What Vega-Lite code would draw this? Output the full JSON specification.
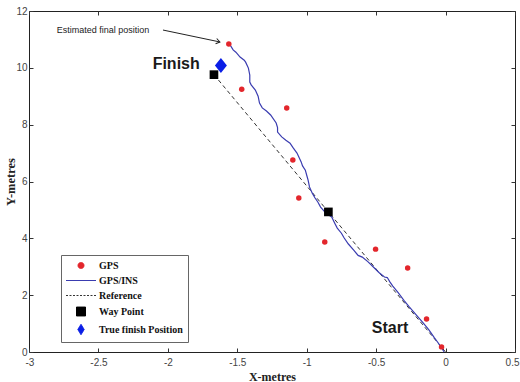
{
  "$schema": "https://vega.github.io/schema/vega-lite/v6.json",
  "width": 486,
  "height": 341,
  "autosize": {"type": "none"},
  "padding": {"left": 29, "top": 11, "right": 5, "bottom": 30},
  "background": "white",
  "config": {
    "view": {"stroke": "#222222", "strokeWidth": 1},
    "axis": {
      "grid": false,
      "domain": false,
      "tickSize": -4,
      "tickColor": "#333333",
      "labelFont": "Liberation Sans",
      "labelFontSize": 10,
      "labelColor": "#444444",
      "labelOverlap": false,
      "labelBound": false,
      "labelFlush": false,
      "titleFont": "Liberation Serif",
      "titleFontWeight": "bold",
      "titleFontSize": 12,
      "titleColor": "#222222"
    }
  },
  "datasets": {
    "gps": [
      {"x": -1.561, "y": 10.84, "series": "GPS"},
      {"x": -1.468, "y": 9.25, "series": "GPS"},
      {"x": -1.144, "y": 8.59, "series": "GPS"},
      {"x": -1.1, "y": 6.76, "series": "GPS"},
      {"x": -1.057, "y": 5.42, "series": "GPS"},
      {"x": -0.87, "y": 3.87, "series": "GPS"},
      {"x": -0.504, "y": 3.62, "series": "GPS"},
      {"x": -0.273, "y": 2.96, "series": "GPS"},
      {"x": -0.137, "y": 1.16, "series": "GPS"},
      {"x": -0.029, "y": 0.18, "series": "GPS"}
    ],
    "ins": [
      {"i": 0, "x": -0.01, "y": 0.0, "series": "GPS/INS"},
      {"i": 1, "x": -0.05, "y": 0.3, "series": "GPS/INS"},
      {"i": 2, "x": -0.08, "y": 0.5, "series": "GPS/INS"},
      {"i": 3, "x": -0.12, "y": 0.78, "series": "GPS/INS"},
      {"i": 4, "x": -0.16, "y": 1.02, "series": "GPS/INS"},
      {"i": 5, "x": -0.21, "y": 1.3, "series": "GPS/INS"},
      {"i": 6, "x": -0.26, "y": 1.58, "series": "GPS/INS"},
      {"i": 7, "x": -0.3, "y": 1.82, "series": "GPS/INS"},
      {"i": 8, "x": -0.34, "y": 2.08, "series": "GPS/INS"},
      {"i": 9, "x": -0.38, "y": 2.32, "series": "GPS/INS"},
      {"i": 10, "x": -0.4, "y": 2.46, "series": "GPS/INS"},
      {"i": 11, "x": -0.42, "y": 2.62, "series": "GPS/INS"},
      {"i": 12, "x": -0.44, "y": 2.64, "series": "GPS/INS"},
      {"i": 13, "x": -0.48, "y": 2.8, "series": "GPS/INS"},
      {"i": 14, "x": -0.52, "y": 2.99, "series": "GPS/INS"},
      {"i": 15, "x": -0.56, "y": 3.18, "series": "GPS/INS"},
      {"i": 16, "x": -0.6, "y": 3.34, "series": "GPS/INS"},
      {"i": 17, "x": -0.63, "y": 3.4, "series": "GPS/INS"},
      {"i": 18, "x": -0.66, "y": 3.58, "series": "GPS/INS"},
      {"i": 19, "x": -0.7, "y": 3.8, "series": "GPS/INS"},
      {"i": 20, "x": -0.73, "y": 4.01, "series": "GPS/INS"},
      {"i": 21, "x": -0.75, "y": 4.18, "series": "GPS/INS"},
      {"i": 22, "x": -0.78, "y": 4.36, "series": "GPS/INS"},
      {"i": 23, "x": -0.8, "y": 4.55, "series": "GPS/INS"},
      {"i": 24, "x": -0.82, "y": 4.75, "series": "GPS/INS"},
      {"i": 25, "x": -0.85, "y": 4.85, "series": "GPS/INS"},
      {"i": 26, "x": -0.87, "y": 4.93, "series": "GPS/INS"},
      {"i": 27, "x": -0.9, "y": 5.1, "series": "GPS/INS"},
      {"i": 28, "x": -0.92, "y": 5.28, "series": "GPS/INS"},
      {"i": 29, "x": -0.94, "y": 5.42, "series": "GPS/INS"},
      {"i": 30, "x": -0.96, "y": 5.59, "series": "GPS/INS"},
      {"i": 31, "x": -0.98, "y": 5.81, "series": "GPS/INS"},
      {"i": 32, "x": -0.99, "y": 6.05, "series": "GPS/INS"},
      {"i": 33, "x": -1.0, "y": 6.22, "series": "GPS/INS"},
      {"i": 34, "x": -1.01, "y": 6.4, "series": "GPS/INS"},
      {"i": 35, "x": -1.03, "y": 6.55, "series": "GPS/INS"},
      {"i": 36, "x": -1.04, "y": 6.69, "series": "GPS/INS"},
      {"i": 37, "x": -1.07, "y": 7.0, "series": "GPS/INS"},
      {"i": 38, "x": -1.1, "y": 7.2, "series": "GPS/INS"},
      {"i": 39, "x": -1.12, "y": 7.35, "series": "GPS/INS"},
      {"i": 40, "x": -1.15, "y": 7.45, "series": "GPS/INS"},
      {"i": 41, "x": -1.18, "y": 7.57, "series": "GPS/INS"},
      {"i": 42, "x": -1.21, "y": 7.74, "series": "GPS/INS"},
      {"i": 43, "x": -1.21, "y": 7.9, "series": "GPS/INS"},
      {"i": 44, "x": -1.22, "y": 8.06, "series": "GPS/INS"},
      {"i": 45, "x": -1.26, "y": 8.34, "series": "GPS/INS"},
      {"i": 46, "x": -1.29, "y": 8.48, "series": "GPS/INS"},
      {"i": 47, "x": -1.32, "y": 8.59, "series": "GPS/INS"},
      {"i": 48, "x": -1.34, "y": 8.76, "series": "GPS/INS"},
      {"i": 49, "x": -1.35, "y": 9.0, "series": "GPS/INS"},
      {"i": 50, "x": -1.37, "y": 9.22, "series": "GPS/INS"},
      {"i": 51, "x": -1.4, "y": 9.4, "series": "GPS/INS"},
      {"i": 52, "x": -1.41, "y": 9.5, "series": "GPS/INS"},
      {"i": 53, "x": -1.41, "y": 9.75, "series": "GPS/INS"},
      {"i": 54, "x": -1.42, "y": 9.99, "series": "GPS/INS"},
      {"i": 55, "x": -1.44, "y": 10.2, "series": "GPS/INS"},
      {"i": 56, "x": -1.45, "y": 10.27, "series": "GPS/INS"},
      {"i": 57, "x": -1.48, "y": 10.38, "series": "GPS/INS"},
      {"i": 58, "x": -1.51, "y": 10.55, "series": "GPS/INS"},
      {"i": 59, "x": -1.53, "y": 10.63, "series": "GPS/INS"},
      {"i": 60, "x": -1.56, "y": 10.87, "series": "GPS/INS"}
    ],
    "ref": [
      {"i": 0, "x": -1.668, "y": 9.76, "series": "Reference"},
      {"i": 1, "x": -0.844, "y": 4.93, "series": "Reference"},
      {"i": 2, "x": 0.0, "y": 0.0, "series": "Reference"}
    ],
    "way": [
      {"x": -1.668, "y": 9.76, "series": "Way Point"},
      {"x": -0.844, "y": 4.93, "series": "Way Point"}
    ],
    "finish": [
      {"x": -1.618, "y": 10.08, "series": "True finish Position"}
    ],
    "labels": [
      {"x": -1.94, "y": 10.13, "text": "Finish"},
      {"x": -0.4, "y": 0.84, "text": "Start"}
    ],
    "annot": [
      {"x": -2.8, "y": 11.33, "text": "Estimated  final position"}
    ],
    "arrow": [
      {"x": -2.035, "y": 11.33, "x2": -1.625, "y2": 10.91}
    ]
  },
  "resolve": {"axis": {"x": "independent", "y": "independent"}},
  "layer": [
    {
      "data": {"name": "ref"},
      "mark": {"type": "line", "strokeDash": [4, 3], "strokeWidth": 1},
      "encoding": {
        "x": {"field": "x", "type": "quantitative",
          "scale": {"domain": [-3, 0.5], "nice": false, "zero": false},
          "axis": {"orient": "bottom", "values": [-3, -2.5, -2, -1.5, -1, -0.5, 0, 0.5],
            "labelExpr": "'' + datum.value", "title": "X-metres", "titleY": 24,
            "titleBaseline": "middle", "labelPadding": 9,
            "labelFlush": true, "labelFlushOffset": 4}},
        "y": {"field": "y", "type": "quantitative",
          "scale": {"domain": [0, 12], "nice": false, "zero": false},
          "axis": {"orient": "left", "values": [0, 2, 4, 6, 8, 10, 12],
            "labelExpr": "'' + datum.value", "title": "Y-metres", "titleX": -19,
            "titleBaseline": "middle", "titleFontSize": 12.5, "labelPadding": 6}},
        "order": {"field": "i", "type": "quantitative"},
        "color": {"field": "series", "type": "nominal",
          "scale": {"domain": ["GPS", "GPS/INS", "Reference", "Way Point", "True finish Position"],
            "range": ["#e3262c", "#3a3cb0", "#333333", "#000000", "#0a1ee6"]},
          "legend": {
            "title": null,
            "orient": "none",
            "legendX": 32,
            "legendY": 244,
            "direction": "vertical",
            "padding": 5,
            "strokeColor": "#666666",
            "fillColor": "white",
            "symbolSize": 100,
            "labelOffset": 22,
            "rowPadding": 4,
            "labelFont": "Liberation Serif",
            "labelFontWeight": "bold",
            "labelFontSize": 10,
            "labelColor": "#111111",
            "encode": {
              "symbols": {
                "update": {
                  "x": {"value": 15},
                  "shape": {"signal": "datum.value === 'GPS' ? 'circle' : datum.value === 'Way Point' ? 'square' : datum.value === 'True finish Position' ? 'M0,-1.3L0.8,0L0,1.3L-0.8,0Z' : 'M-3,0H3'"},
                  "size": {"signal": "datum.value === 'GPS' ? 36 : datum.value === 'Way Point' ? 81 : datum.value === 'True finish Position' ? 64 : 100"},
                  "fill": {"signal": "datum.value === 'GPS' ? '#e3262c' : datum.value === 'Way Point' ? '#000000' : datum.value === 'True finish Position' ? '#0a1ee6' : 'transparent'"},
                  "stroke": {"signal": "datum.value === 'GPS/INS' ? '#3a3cb0' : datum.value === 'Reference' ? '#333333' : 'transparent'"},
                  "strokeDash": {"signal": "datum.value === 'Reference' ? [2, 1.5] : [1, 0]"},
                  "strokeWidth": {"value": 1},
                  "opacity": {"value": 1}
                }
              }
            }
          }}
      }
    },
    {
      "data": {"name": "ins"},
      "mark": {"type": "line", "strokeWidth": 1.2},
      "encoding": {
        "x": {"field": "x", "type": "quantitative",
          "axis": {"orient": "top", "values": [-3, -2.5, -2, -1.5, -1, -0.5, 0, 0.5], "labels": false, "title": null}},
        "y": {"field": "y", "type": "quantitative",
          "axis": {"orient": "right", "values": [0, 2, 4, 6, 8, 10, 12], "labels": false, "title": null}},
        "order": {"field": "i", "type": "quantitative"},
        "color": {"field": "series", "type": "nominal", "legend": null}
      }
    },
    {
      "data": {"name": "gps"},
      "mark": {"type": "point", "shape": "circle", "filled": true, "size": 30, "opacity": 1},
      "encoding": {
        "x": {"field": "x", "type": "quantitative", "axis": null},
        "y": {"field": "y", "type": "quantitative", "axis": null},
        "color": {"field": "series", "type": "nominal", "legend": null}
      }
    },
    {
      "data": {"name": "way"},
      "mark": {"type": "point", "shape": "square", "filled": true, "size": 75, "opacity": 1},
      "encoding": {
        "x": {"field": "x", "type": "quantitative", "axis": null},
        "y": {"field": "y", "type": "quantitative", "axis": null},
        "color": {"field": "series", "type": "nominal", "legend": null}
      }
    },
    {
      "data": {"name": "finish"},
      "mark": {"type": "point", "shape": "M0,-1.25L1,0L0,1.25L-1,0Z", "filled": true, "size": 144, "opacity": 1},
      "encoding": {
        "x": {"field": "x", "type": "quantitative", "axis": null},
        "y": {"field": "y", "type": "quantitative", "axis": null},
        "color": {"field": "series", "type": "nominal", "legend": null}
      }
    },
    {
      "data": {"name": "arrow"},
      "mark": {"type": "rule", "color": "#222222", "strokeWidth": 1},
      "encoding": {
        "x": {"field": "x", "type": "quantitative", "axis": null},
        "y": {"field": "y", "type": "quantitative", "axis": null},
        "x2": {"field": "x2"},
        "y2": {"field": "y2"}
      }
    },
    {
      "data": {"name": "arrow"},
      "mark": {"type": "point", "shape": "M-1,-0.7L0,0L-1,0.7", "filled": false, "size": 60, "angle": 12, "color": "#222222", "strokeWidth": 1, "opacity": 1},
      "encoding": {
        "x": {"field": "x2", "type": "quantitative", "axis": null},
        "y": {"field": "y2", "type": "quantitative", "axis": null}
      }
    },
    {
      "data": {"name": "labels"},
      "mark": {"type": "text", "font": "Liberation Sans", "fontWeight": "bold", "fontSize": 16, "color": "#1a1a1a", "align": "center", "baseline": "middle"},
      "encoding": {
        "x": {"field": "x", "type": "quantitative", "axis": null},
        "y": {"field": "y", "type": "quantitative", "axis": null},
        "text": {"field": "text"}
      }
    },
    {
      "data": {"name": "annot"},
      "mark": {"type": "text", "font": "Liberation Sans", "fontSize": 9, "color": "#222222", "align": "left", "baseline": "middle"},
      "encoding": {
        "x": {"field": "x", "type": "quantitative", "axis": null},
        "y": {"field": "y", "type": "quantitative", "axis": null},
        "text": {"field": "text"}
      }
    }
  ]
}
